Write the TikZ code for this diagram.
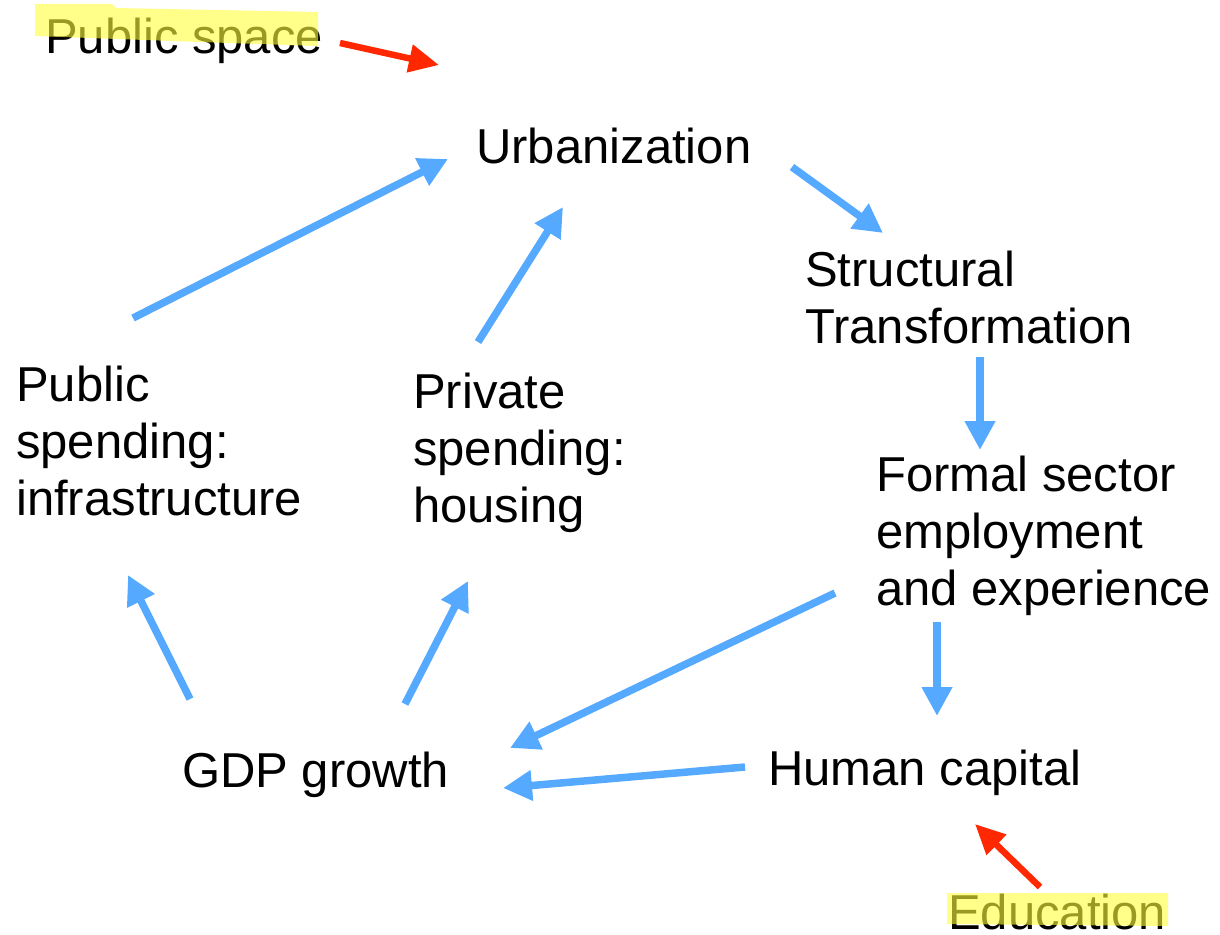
\documentclass[tikz,border=0pt]{standalone}
\usepackage{fontspec}
\setmainfont{Liberation Sans}
\usetikzlibrary{arrows.meta}
\definecolor{arrblue}{RGB}{85,170,255}
\definecolor{arrred}{RGB}{255,40,0}
\definecolor{hl}{RGB}{255,255,60}
\begin{document}
\begin{tikzpicture}[x=1pt,y=-1pt,
  lbl/.style={anchor=base west, inner sep=0pt, align=left, font=\fontsize{49}{57}\selectfont},
  bluearrow/.style={draw=arrblue, line width=7.5pt, -{Triangle[length=29pt,width=29pt]}},
  redarrow/.style={draw=arrred, line width=6.5pt, -{Triangle[length=30pt,width=27pt]}},
  hilite/.style={fill=hl, fill opacity=0.6}]
\useasboundingbox (0,0) rectangle (1220,934);

% labels (anchor = baseline of the last line)
\node[lbl] (pubspace) at (45,53) {Public space};
\node[lbl] (urb) at (476,163) {Urbanization};
\node[lbl] (struct) at (805,343) {Structural\\Transformation};
\node[lbl] (formal) at (876,605) {Formal sector\\employment\\and experience};
\node[lbl] (pubspend) at (16,515) {Public\\spending:\\infrastructure};
\node[lbl] (privspend) at (413,522) {Private\\spending:\\housing};
\node[lbl] (gdp) at (182,787) {GDP growth};
\node[lbl] (human) at (768,785) {Human capital};
\node[lbl] (edu) at (948,929) {Education};

% connector ends
\coordinate (pubspend-out) at (133,318);
\coordinate (urb-in1) at (448,159);
\coordinate (privspend-out) at (478,342);
\coordinate (urb-in2) at (563,207);
\coordinate (urb-out) at (792,167);
\coordinate (struct-in) at (883,233);
\coordinate (struct-out) at (980,357);
\coordinate (formal-in) at (980,450);
\coordinate (gdp-out1) at (190,699);
\coordinate (pubspend-in) at (128,575);
\coordinate (gdp-out2) at (405,704);
\coordinate (privspend-in) at (468,581);
\coordinate (formal-out1) at (835,593);
\coordinate (gdp-in1) at (510,748);
\coordinate (formal-out2) at (937,622);
\coordinate (human-in) at (937,716);
\coordinate (human-out) at (745,767);
\coordinate (gdp-in2) at (503,788);
\coordinate (pubspace-out) at (340,43);
\coordinate (urb-in0) at (439,65);
\coordinate (edu-out) at (1040,887);
\coordinate (human-in2) at (975,824);

% blue arrows
\draw[bluearrow] (pubspend-out) -- (urb-in1);
\draw[bluearrow] (privspend-out) -- (urb-in2);
\draw[bluearrow] (urb-out) -- (struct-in);
\draw[bluearrow] (struct-out) -- (formal-in);
\draw[bluearrow] (gdp-out1) -- (pubspend-in);
\draw[bluearrow] (gdp-out2) -- (privspend-in);
\draw[bluearrow] (formal-out1) -- (gdp-in1);
\draw[bluearrow] (formal-out2) -- (human-in);
\draw[bluearrow] (human-out) -- (gdp-in2);

% red arrows
\draw[redarrow] (pubspace-out) -- (urb-in0);
\draw[redarrow] (edu-out) -- (human-in2);

% highlights
\fill[hilite] (35,4) -- (112,4) -- (116,8) -- (318,12) -- (318,46) -- (200,42) -- (35,36) -- cycle;
\fill[hilite] (947,893) -- (1168,893) -- (1168,926) -- (947,924) -- cycle;
\end{tikzpicture}
\end{document}
